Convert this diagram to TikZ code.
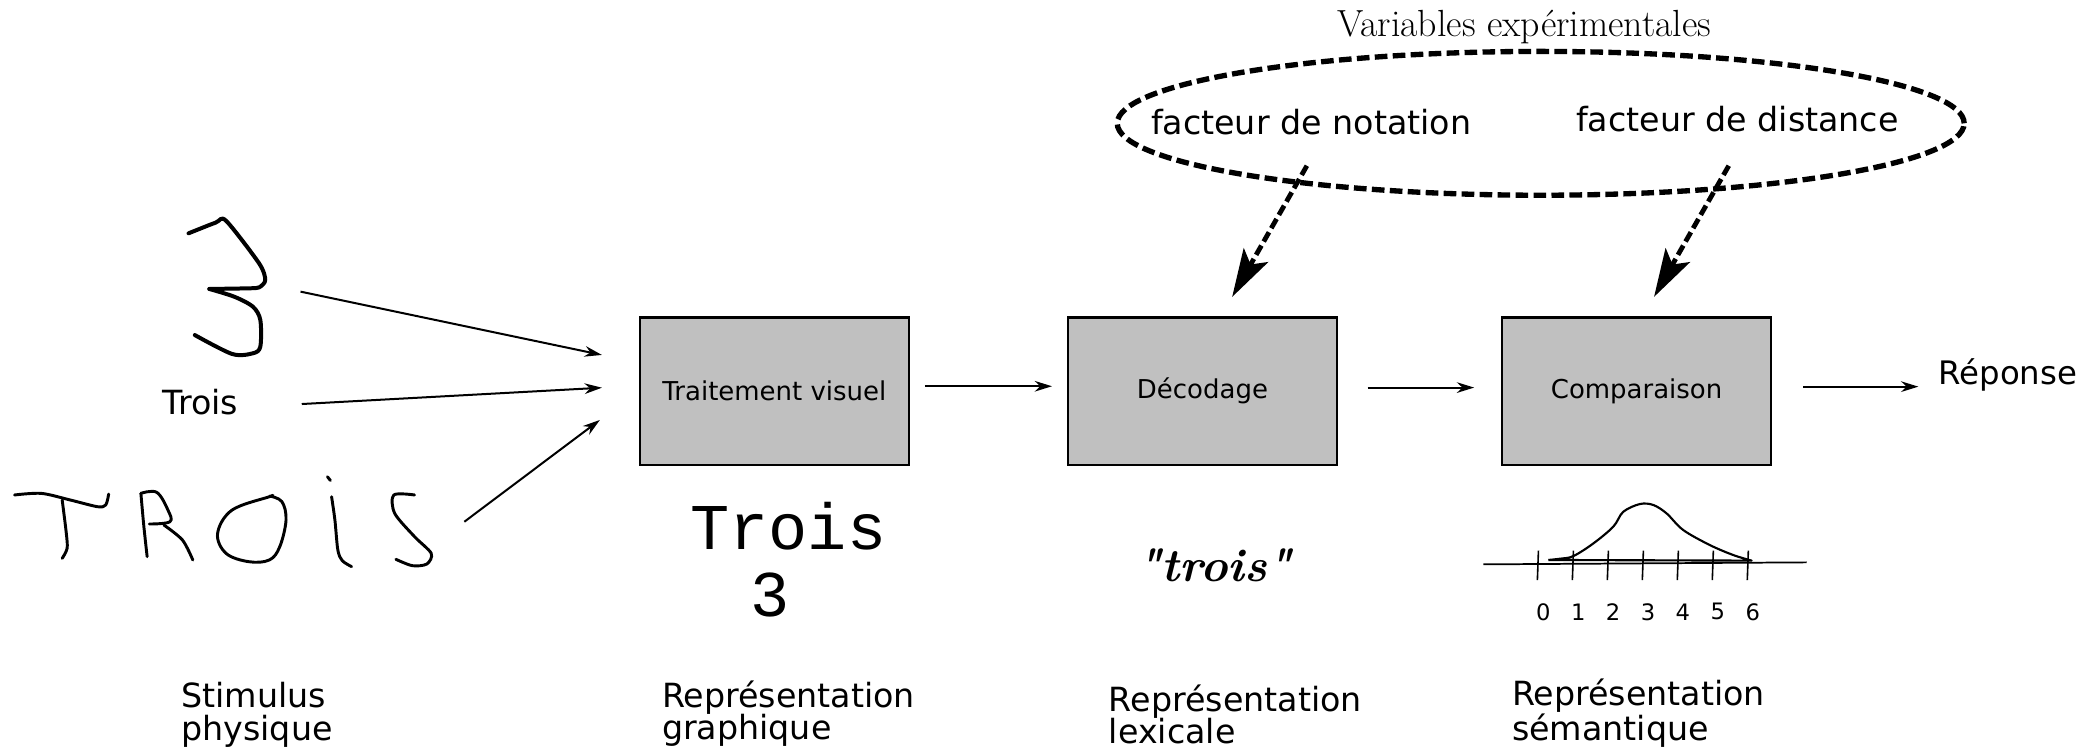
\documentclass[tikz,border=0pt]{standalone}
\usepackage{fontspec}
\newfontfamily\dejavu{DejaVu Sans}
\newfontfamily\monof{Liberation Mono}
\usetikzlibrary{arrows.meta,calc,shapes.geometric}
\newcommand\fsz[1]{\fontsize{#1}{#1}\selectfont}
\definecolor{boxgray}{RGB}{192,192,192}

\begin{document}
\begin{tikzpicture}[x=1pt,y=-1pt,
  proc/.style={draw=black, line width=2pt, fill=boxgray, minimum width=202pt,
    minimum height=111pt, inner sep=0pt, font=\dejavu\fsz{19.5}},
  arr/.style={line width=1.5pt, -{Stealth[length=13pt,width=8pt]}},
  varr/.style={line width=3.6pt, dash pattern=on 8pt off 3.5pt,
    -{Stealth[length=36pt,width=21pt,inset=8pt]}},
  hand/.style={line width=2.2pt, line cap=round, line join=round},
  lbl/.style={font=\dejavu\fsz{25}, inner sep=0pt},
  caption/.style={font=\dejavu\fontsize{25}{24.5}\selectfont, align=left,
    inner sep=0pt, anchor=base west},
  tickmark/.style={line width=1.2pt},
  digit/.style={font=\dejavu\fsz{17}, inner sep=0pt},
]
\useasboundingbox (0,0) rectangle (1568,566);

% ---- handwritten "3"
\draw[hand, line width=3pt] plot[smooth, tension=0.45] coordinates {
  (141.6,175.2) (161.9,167.2) (169.7,165.7) (194.6,197.8) (199.2,210.3)
  (194.6,215.8) (186.8,216.5) (157.2,217.0)};
\draw[hand, line width=3pt] plot[smooth, tension=0.5] coordinates {
  (157.2,217.0) (175.9,222.8) (189.9,230.3) (195.5,240.3) (195.5,260.3)
  (189.9,265.3) (174.3,265.8) (146.3,251.6)};

% ---- typed word
\node[lbl, anchor=base west] (trois) at (122,311.5) {Trois};

% ---- handwritten TROIS
\draw[hand] plot[smooth, tension=0.5] coordinates {
  (10.9,371.7) (31.1,370.5) (52.9,375.5) (73.2,380.5) (79.4,379.2) (81.6,371)};
\draw[hand] plot[smooth, tension=0.5] coordinates {
  (46.7,375.5) (49.8,400.5) (50.4,411.8) (46.7,419.3)};
\draw[hand] plot[smooth, tension=0.5] coordinates {
  (105.8,370.5) (108,395) (110.5,418)};
\draw[hand] plot[smooth, tension=0.6] coordinates {
  (105.8,370.5) (117.7,369.7) (126.1,383) (127.6,391.8) (112.1,393.5)};
\draw[hand] plot[smooth, tension=0.5] coordinates {
  (123,394.2) (137,405.5) (144.8,420.5)};
\draw[hand] plot[smooth, tension=0.6] coordinates {
  (203.9,372.3) (202.3,373) (174.3,383) (163.4,400.5) (169.7,415.5)
  (186.8,421.8) (202.3,420.5) (210.1,410.5) (214.8,390.5) (211.7,376.7)
  (202.5,372.5)};
\draw[hand] (245.9,358) -- (248.1,360.8);
\draw[hand] plot[smooth, tension=0.5] coordinates {
  (249,373) (251.5,390.5) (253.7,413) (257,421) (264,425.5)};
\draw[hand] plot[smooth, tension=0.5] coordinates {
  (311.3,371.7) (295.7,371.7) (296.4,385.5) (311.3,403) (323.8,415.5)
  (320.6,423.5) (309.7,424.8) (297.3,420)};

% ---- processing stages
\node[proc] (b1) at (581.5,293.75) {Traitement visuel};
\node[proc] (b2) at (903,293.75) {Décodage};
\node[proc] (b3) at (1229,293.75) {Comparaison};
\node[lbl, font=\dejavu\fsz{24.3}, anchor=base west] (rep) at (1455.6,289) {Réponse};

% ---- stimulus arrows
\coordinate (s1) at (225.7,219);
\coordinate (s2) at (226.6,303.4);
\coordinate (s3) at (348.7,391.8);
\draw[arr] (s1) -- ($(b1.west)+(-27.5,-27.2)$);
\draw[arr] (s2) -- ($(b1.west)+(-27.5,-2.6)$);
\draw[arr] (s3) -- ($(b1.west)+(-29,21.6)$);

% ---- stage arrows
\draw[arr, shorten <=11pt, shorten >=11pt] ([yshift=3.7pt]b1.east) -- ([yshift=3.7pt]b2.west);
\draw[arr, shorten <=22pt, shorten >=20pt] ([yshift=2.7pt]b2.east) -- ([yshift=2.7pt]b3.west);
\draw[arr, shorten <=23pt, shorten >=15pt] ([yshift=3.4pt]b3.east) -- ([yshift=3.4pt]b3.east -| rep.west);

% ---- experimental variables
\node[font=\fsz{28.4}, anchor=base, inner sep=0pt] (vx) at (1144.6,27.5) {Variables expérimentales};
\node[draw, ellipse, line width=4pt, dash pattern=on 9.5pt off 4pt,
  minimum width=636pt, minimum height=108pt, inner sep=0pt] (vars) at (1157,92.6) {};
\node[lbl, anchor=base] (fn) at (984.6,101) {facteur de notation};
\node[lbl, anchor=base] (fd) at (1304.7,98.9) {facteur de distance};
\draw[varr] ($(fn.south)+(-3.2,22.9)$) -- ($(b2.north)+(22.3,-14.3)$);
\draw[varr] ($(fd.south)+(-6.5,25)$) -- ($(b3.north)+(13.1,-14.3)$);

% ---- graphic representation
\node[font=\monof\fsz{49}, anchor=base, inner sep=0pt] (gr) at (592,413) {Trois};
\node[font=\monof\fsz{49}, anchor=base, inner sep=0pt] (gr3) at (578,463) {3};

% ---- lexical representation
\node[font=\bfseries\itshape\fsz{35}, anchor=base west, inner sep=0pt] (lex) at (854,436.8)
  {\textquotedbl trois\textquotedbl};

% ---- semantic representation: number line with a bump
\draw[line width=1.3pt] (1113.9,423.8) -- (1356.7,422.3);
\foreach \k in {0,...,6} {
  \draw[tickmark] ({1154.5+26.27*\k+0.8},413.5) -- ({1154.5+26.27*\k},435.6);
  \node[digit] (n\k) at ({1159+26.2*\k},459.4) {\k};
}
\draw[line width=1.6pt, line join=round] plot[smooth, tension=0.55] coordinates {
  (1162.7,420.5) (1172,419.5) (1181.5,417.6) (1196.5,408.1) (1211.5,395.5) (1219,384.3)
  (1231.5,378.5) (1241.5,379.2) (1251.5,385.5) (1264,398) (1284,409.3)
  (1301.6,416.8) (1315.4,421)} -- (1162.7,420.5);

% ---- captions (anchored at the baseline of their last line)
\node[caption] (c1) at (136,556) {Stimulus\\physique};
\node[caption] (c2) at (497,555.5) {Représentation\\graphique};
\node[caption] (c3) at (832.6,558.5) {Représentation\\lexicale};
\node[caption] (c4) at (1135.3,556) {Représentation\\sémantique};
\end{tikzpicture}
\end{document}
